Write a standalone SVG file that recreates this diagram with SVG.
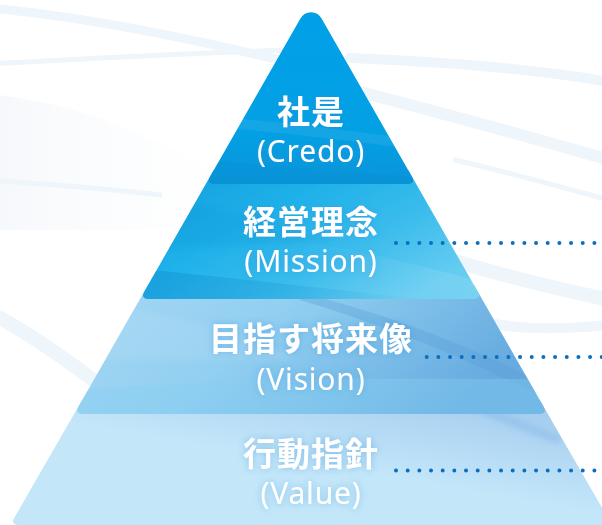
<svg xmlns="http://www.w3.org/2000/svg" width="602" height="525" viewBox="0 0 602 525">
  <style>
    .lbl { text-anchor: middle; fill: #ffffff; }
    .jp { font-family: "Noto Sans CJK JP", "Noto Sans", sans-serif; font-weight: 700; font-size: 33px; letter-spacing: 1px; }
    .en { font-family: "Noto Sans", "Noto Sans CJK JP", sans-serif; font-weight: 400; font-size: 30px; letter-spacing: 0.8px; }
    .dots { fill: none; stroke: #0b6fbf; stroke-width: 4; stroke-linecap: round; stroke-dasharray: 0 11.67; }
    .swoosh { fill: none; stroke: #eef5fb; stroke-linecap: round; }
  </style>
  <defs>
    <linearGradient id="g1" x1="0" y1="0" x2="0" y2="1">
      <stop offset="0" stop-color="#00a0e8"/>
      <stop offset="0.7" stop-color="#03a0e4"/>
      <stop offset="1" stop-color="#0a95d8"/>
    </linearGradient>
    <linearGradient id="g2" x1="0" y1="0" x2="1" y2="0.7">
      <stop offset="0" stop-color="#129cdc"/>
      <stop offset="0.4" stop-color="#1eb1e9"/>
      <stop offset="0.7" stop-color="#3abcec"/>
      <stop offset="1" stop-color="#66ccf1"/>
    </linearGradient>
    <linearGradient id="g3" x1="0" y1="0" x2="1" y2="0.3">
      <stop offset="0" stop-color="#a6d7f3"/>
      <stop offset="0.45" stop-color="#92cff1"/>
      <stop offset="0.75" stop-color="#7bbde8"/>
      <stop offset="1" stop-color="#67abe0"/>
    </linearGradient>
    <linearGradient id="g4" x1="1" y1="0" x2="0.55" y2="0.55">
      <stop offset="0" stop-color="#98c3eb"/>
      <stop offset="0.35" stop-color="#abd2f1"/>
      <stop offset="1" stop-color="#c3e6f9"/>
    </linearGradient>
    <linearGradient id="bgshade" x1="0" y1="0" x2="1" y2="0">
      <stop offset="0" stop-color="#eef3f9" stop-opacity="0.9"/>
      <stop offset="1" stop-color="#ffffff" stop-opacity="0"/>
    </linearGradient>
    <linearGradient id="fadeDark" x1="0" y1="0" x2="1" y2="0">
      <stop offset="0" stop-color="#0f8bd0" stop-opacity="0.45"/>
      <stop offset="1" stop-color="#0f8bd0" stop-opacity="0"/>
    </linearGradient>
    <linearGradient id="fadeLight" x1="0" y1="0" x2="1" y2="0">
      <stop offset="0" stop-color="#ffffff" stop-opacity="0"/>
      <stop offset="1" stop-color="#ffffff" stop-opacity="0.12"/>
    </linearGradient>
    <filter id="glow" x="-20%" y="-30%" width="140%" height="160%">
      <feGaussianBlur in="SourceAlpha" stdDeviation="3.5" result="b"/>
      <feFlood flood-color="#2f8fd8" flood-opacity="0.45"/>
      <feComposite in2="b" operator="in" result="s"/>
      <feMerge><feMergeNode in="s"/><feMergeNode in="SourceGraphic"/></feMerge>
    </filter>
    <filter id="soft" x="-10%" y="-50%" width="120%" height="200%">
      <feGaussianBlur stdDeviation="3"/>
    </filter>
    <clipPath id="c1"><path d="M300.57,18.23 A12,12 0 0 1 321.43,18.23 L411.7,176.2 Q416.2,184 407.2,184 L214.8,184 Q205.8,184 210.3,176.2 Z"/></clipPath>
    <clipPath id="c2"><path d="M213.8,170 L408.2,170 L477.5,291.2 Q482,299 473,299 L149,299 Q140,299 144.5,291.2 Z"/></clipPath>
    <clipPath id="c3"><path d="M148,285 L474,285 L543.3,406.2 Q547.8,414 538.8,414 L83.2,414 Q74.2,414 78.7,406.2 Z"/></clipPath>
    <clipPath id="c4"><path d="M82.2,400 L539.8,400 L607.4,517.2 Q611.9,525 602.9,525 L19.1,525 Q10.1,525 14.6,517.2 Z"/></clipPath>
  </defs>

  <!-- background -->
  <rect width="602" height="525" fill="#ffffff"/>
  <g id="background">
    <path d="M0,95 C120,110 220,170 300,230 L0,230 Z" fill="url(#bgshade)" opacity="0.6"/>
    <path class="swoosh" d="M-10,8 C100,18 220,45 330,72" stroke-width="9"/>
    <path class="swoosh" d="M-10,64 C100,58 200,52 300,50" stroke-width="5"/>
    <path class="swoosh" d="M350,58 C450,62 540,70 610,82" stroke-width="10"/>
    <path class="swoosh" d="M360,92 C450,115 540,140 610,160" stroke-width="12"/>
    <path class="swoosh" d="M455,160 C520,175 570,190 610,200" stroke-width="5"/>
    <path class="swoosh" d="M-10,180 C60,185 120,190 160,195" stroke-width="5"/>
    <path class="swoosh" d="M0,318 C40,340 80,370 100,385" stroke-width="14"/>
    <path class="swoosh" d="M420,250 C480,270 540,285 610,300" stroke-width="14"/>
    <path class="swoosh" d="M470,320 C520,330 560,330 610,325" stroke-width="10"/>
  </g>

  <!-- tier 4 -->
  <g id="tier-value">
    <path d="M82.2,400 L539.8,400 L607.4,517.2 Q611.9,525 602.9,525 L19.1,525 Q10.1,525 14.6,517.2 Z" fill="url(#g4)"/>
    <g clip-path="url(#c4)">
      <path d="M450,398 C490,412 520,425 560,440" stroke="#7fb2e3" stroke-width="8" fill="none" opacity="0.45" filter="url(#soft)"/>
    </g>
    <text class="lbl" filter="url(#glow)"><tspan class="jp" x="311" y="465.5">行動指針</tspan><tspan class="en" x="311" y="503.5">(Value)</tspan></text>
  </g>

  <!-- tier 3 -->
  <g id="tier-vision">
    <path d="M148,285 L474,285 L543.3,406.2 Q547.8,414 538.8,414 L83.2,414 Q74.2,414 78.7,406.2 Z" fill="url(#g3)"/>
    <g clip-path="url(#c3)">
      <path d="M300,300 C400,330 480,365 560,405 L560,392 C480,350 400,318 300,292 Z" fill="#5a9fd8" opacity="0.35"/>
      <path d="M60,392 C200,380 380,376 560,380 L560,420 L60,420 Z" fill="#88d0f3" opacity="0.4"/>
      <path d="M60,300 C160,310 240,330 300,360 L60,360 Z" fill="#b4dff6" opacity="0.3" filter="url(#soft)"/>
    </g>
    <text class="lbl" filter="url(#glow)"><tspan class="jp" x="311" y="351">目指す将来像</tspan><tspan class="en" x="311" y="390">(Vision)</tspan></text>
  </g>

  <!-- tier 2 -->
  <g id="tier-mission">
    <path d="M213.8,170 L408.2,170 L477.5,291.2 Q482,299 473,299 L149,299 Q140,299 144.5,291.2 Z" fill="url(#g2)"/>
    <g clip-path="url(#c2)">
      <path d="M130,268 C220,276 320,288 430,300 L130,300 Z" fill="url(#fadeDark)"/>
      <path d="M130,205 C200,200 260,215 330,240 L130,250 Z" fill="#0d94d6" opacity="0.22" filter="url(#soft)"/>
      <path d="M300,240 C380,255 440,270 490,285 L490,300 L300,300 Z" fill="url(#fadeLight)"/>
    </g>
    <text class="lbl" filter="url(#glow)"><tspan class="jp" x="311" y="234">経営理念</tspan><tspan class="en" x="311" y="272">(Mission)</tspan></text>
  </g>

  <!-- tier 1 -->
  <g id="tier-credo">
    <path d="M300.57,18.23 A12,12 0 0 1 321.43,18.23 L411.7,176.2 Q416.2,184 407.2,184 L214.8,184 Q205.8,184 210.3,176.2 Z" fill="url(#g1)"/>
    <g clip-path="url(#c1)">
      <path d="M200,115 C260,120 330,128 420,140 L420,150 C330,138 260,130 200,126 Z" fill="#ffffff" opacity="0.07"/>
      <path d="M200,160 C270,166 340,170 420,178 L420,190 L200,190 Z" fill="#0b8ed4" opacity="0.3"/>
    </g>
    <text class="lbl" filter="url(#glow)"><tspan class="jp" x="311" y="123.5">社是</tspan><tspan class="en" x="311" y="161.5">(Credo)</tspan></text>
  </g>

  <!-- connectors -->
  <g id="connectors">
    <line class="dots" x1="396" y1="243" x2="602" y2="243"/>
    <line class="dots" x1="426.7" y1="357" x2="602" y2="357"/>
    <line class="dots" x1="396" y1="470.5" x2="602" y2="470.5"/>
  </g>
</svg>
